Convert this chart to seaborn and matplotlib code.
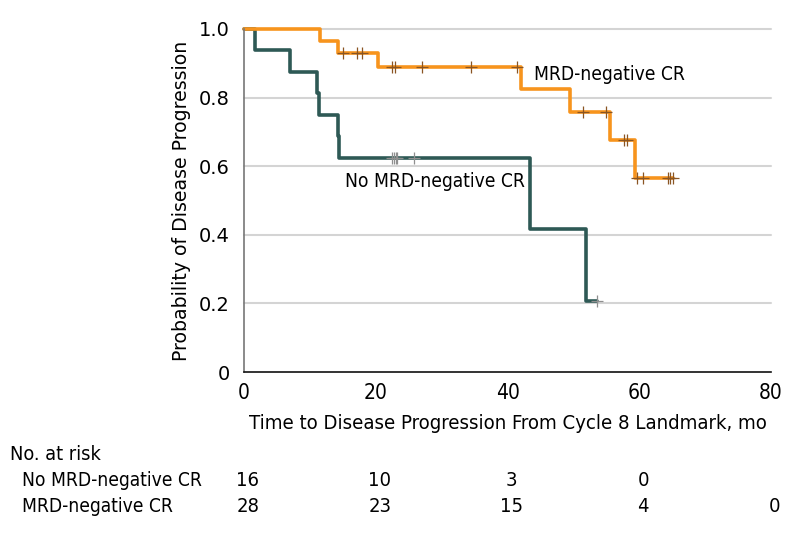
import numpy as np
import pandas as pd
import matplotlib
matplotlib.use("Agg")
import matplotlib.pyplot as plt
import matplotlib.transforms as mtransforms
from matplotlib import font_manager
import seaborn as sns

# Kaplan-Meier step data
times_mrd = [0, 11.5, 14.2, 20.4, 42.1, 49.5, 55.5, 59.3, 65.1]
surv_mrd = [1.0, 0.964, 0.929, 0.888, 0.825, 0.759, 0.676, 0.566, 0.566]
censor_mrd = [15.1, 17.1, 17.9, 22.4, 22.9, 27.0, 34.4, 41.5, 51.5, 55.0,
              57.7, 58.1, 59.6, 60.6, 64.3, 64.6, 65.1]

times_no = [0, 1.7, 7.0, 11.1, 11.4, 14.3, 14.4, 43.4, 51.9, 53.6]
surv_no = [1.0, 0.9375, 0.875, 0.8125, 0.75, 0.6875, 0.625, 0.4167, 0.2083, 0.2083]
censor_no = [22.4, 22.7, 23.0, 23.3, 25.8, 53.6]

# number at risk table
risk_times = [0, 20, 40, 60, 80]
risk_no = [16, 10, 3, 0]
risk_mrd = [28, 23, 15, 4, 0]

orange = "#F7941D"
green = "#2E5955"

sns.set_style("white")
plt.rcParams["text.color"] = "black"
plt.rcParams["xtick.color"] = "black"
plt.rcParams["ytick.color"] = "black"
plt.rcParams["axes.labelcolor"] = "black"

# narrow font for the x axis and the table, if one is around
narrow_fp = None
for f in font_manager.fontManager.ttflist:
    if "Condensed" in f.fname and "DejaVuSans" in f.fname and "Bold" not in f.fname \
            and "Oblique" not in f.fname:
        narrow_fp = font_manager.FontProperties(fname=f.fname)
        break
if narrow_fp is None:
    narrow_fp = font_manager.FontProperties(family="DejaVu Sans")
    scale = 0.86
else:
    scale = 1.0


def nf(size):
    fp = narrow_fp.copy()
    fp.set_size(size * scale)
    return fp


fig = plt.figure(figsize=(7.94, 5.35), dpi=100)
ax = fig.add_axes([244 / 794, 1 - 372 / 535, (771 - 244) / 794, (372 - 29) / 535])


def steps(t, s, grp):
    return pd.DataFrame({"time": t, "surv": s, "group": grp})


def censor_pts(t, s, ct, grp):
    t = np.array(t)
    s = np.array(s)
    idx = np.searchsorted(t, ct, side="right") - 1
    return pd.DataFrame({"time": ct, "surv": s[idx], "group": grp})


df_mrd = steps(times_mrd, surv_mrd, "MRD-negative CR")
df_no = steps(times_no, surv_no, "No MRD-negative CR")

for y in [0.2, 0.4, 0.6, 0.8, 1.0]:
    ax.axhline(y, color="#d4d4d4", lw=1.5, zorder=0, clip_on=False)

sns.lineplot(data=df_no, x="time", y="surv", drawstyle="steps-post", color=green,
             lw=2.6, ax=ax, clip_on=False, estimator=None, sort=False)
sns.lineplot(data=df_mrd, x="time", y="surv", drawstyle="steps-post", color=orange,
             lw=2.6, ax=ax, clip_on=False, estimator=None, sort=False)

cen_no = censor_pts(times_no, surv_no, censor_no, "no")
cen_mrd = censor_pts(times_mrd, surv_mrd, censor_mrd, "mrd")
sns.scatterplot(data=cen_no, x="time", y="surv", marker="+", s=70, color="#8f8f8f",
                linewidth=0.9, ax=ax, zorder=5)
sns.scatterplot(data=cen_mrd, x="time", y="surv", marker="+", s=70, color="#8a5523",
                linewidth=0.9, ax=ax, zorder=5)

ax.set_xlim(0, 80)
ax.set_ylim(0, 1)
ax.set_xticks(risk_times)
ax.set_yticks([0, 0.2, 0.4, 0.6, 0.8, 1.0])
ax.set_yticklabels(["0", "0.2", "0.4", "0.6", "0.8", "1.0"], fontsize=14)
ax.set_xticklabels([str(t) for t in risk_times], fontproperties=nf(15))
ax.tick_params(axis="both", direction="out", length=5, width=1, color="#555555")
ax.tick_params(axis="x", pad=3)
ax.tick_params(axis="y", pad=5)
for side in ["top", "right"]:
    ax.spines[side].set_visible(False)
ax.spines["left"].set_color("#777777")
ax.spines["bottom"].set_color("#111111")
ax.spines["left"].set_linewidth(1.2)
ax.spines["bottom"].set_linewidth(1.2)

ax.set_xlabel("Time to Disease Progression From Cycle 8 Landmark, mo",
              fontproperties=nf(14.6), labelpad=8)
ax.set_ylabel("Probability of Disease Progression", fontsize=13.6, labelpad=6)

ax.text(44.0, 0.866, "MRD-negative CR", fontproperties=nf(13.8), va="center", ha="left")
ax.text(15.3, 0.554, "No MRD-negative CR", fontproperties=nf(13.8), va="center", ha="left")

# at-risk table
trans = mtransforms.blended_transform_factory(ax.transData, fig.transFigure)
fig.text(10 / 794, 1 - 455 / 535, "No. at risk", fontproperties=nf(14.3), va="center")
fig.text(22 / 794, 1 - 481 / 535, "No MRD-negative CR", fontproperties=nf(13.8), va="center")
fig.text(22 / 794, 1 - 507 / 535, "MRD-negative CR", fontproperties=nf(13.8), va="center")
for t, n in zip(risk_times, risk_no):
    ax.text(t + 0.6, 1 - 481 / 535, str(n), transform=trans, fontproperties=nf(14.5),
            ha="center", va="center")
for t, n in zip(risk_times, risk_mrd):
    ax.text(t + 0.6, 1 - 507 / 535, str(n), transform=trans, fontproperties=nf(14.5),
            ha="center", va="center")

fig.savefig("out.png", dpi=100)
